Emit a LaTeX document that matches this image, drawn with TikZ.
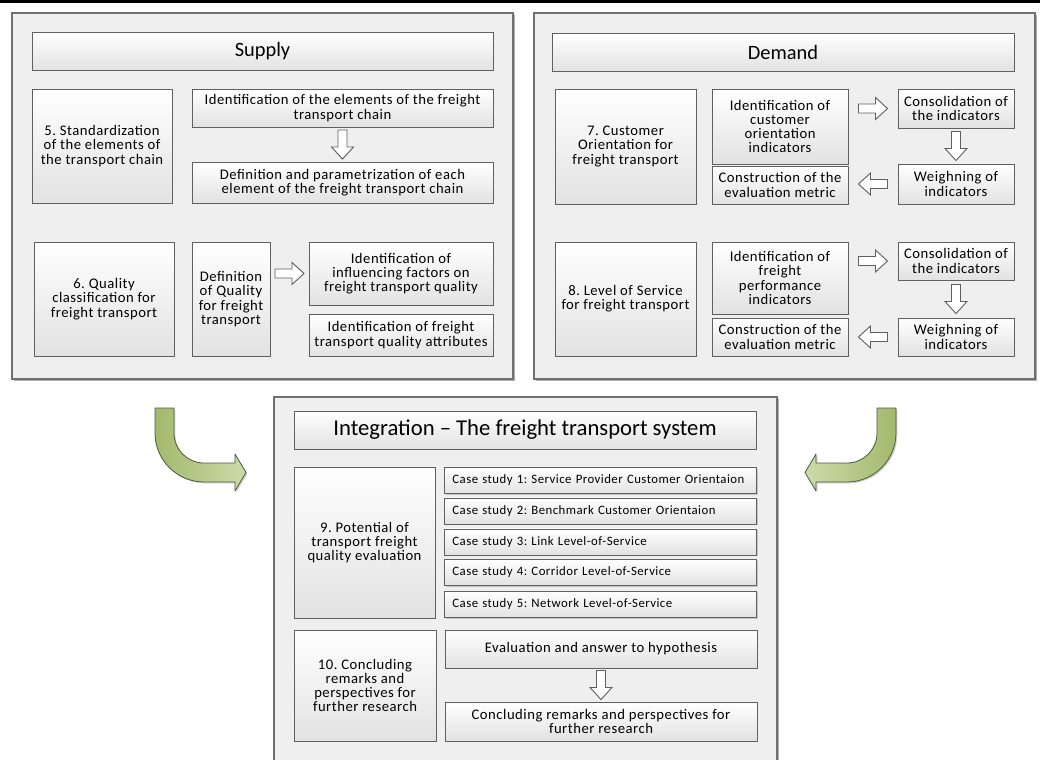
\documentclass[tikz,border=0pt]{standalone}
\usepackage{fontspec}
\setmainfont{Carlito}
\newfontfamily\bodyfont[LetterSpace=3.5]{Carlito}
\usetikzlibrary{shadows,calc}

\definecolor{panelfill}{HTML}{EFEFEF}
\definecolor{panelline}{HTML}{707070}
\definecolor{boxline}{HTML}{606060}
\definecolor{boxbottom}{HTML}{E2E2E2}
\definecolor{olivedark}{HTML}{A2B96C}
\definecolor{olivelight}{HTML}{CCDBAA}
\definecolor{arrowline}{HTML}{505A3A}

\tikzset{
  % a rectangle given by its left, top, right and bottom edges (in px)
  area/.style n args={4}{minimum width={(#3-#1)*0.75pt}, minimum height={(#4-#2)*0.75pt},
    at={({(#1+#3)/2},{(#2+#4)/2})}},
  panel/.style={draw=panelline, line width=0.8pt, fill=panelfill, inner sep=0pt,
    drop shadow={shadow xshift=1.2pt, shadow yshift=-1.2pt, opacity=0.45, fill=black!70}},
  box/.style={draw=boxline, line width=0.7pt, top color=white, bottom color=boxbottom,
    inner sep=0pt, align=center, font=\bodyfont\fontsize{11}{10.7}\selectfont,
    drop shadow={shadow xshift=0.8pt, shadow yshift=-0.8pt, opacity=0.3, fill=black!60}},
  headbox/.style={box, font=\fontsize{15.3}{18}\selectfont},
  casebox/.style={box, anchor=north west, align=left, inner xsep=6pt, inner ysep=0pt,
    text width=222pt, minimum height=19.5pt, font=\bodyfont\fontsize{9.6}{11}\selectfont},
  blockarrow/.style={draw=boxline, line width=0.7pt, fill=white, line join=miter},
  hollowarr/.pic={
    \draw[blockarrow] (-14.5,-4.5) -- (2.5,-4.5) -- (2.5,-11) -- (14.5,0)
      -- (2.5,11) -- (2.5,4.5) -- (-14.5,4.5) -- cycle;
  },
  bentarrow/.style={draw=arrowline, line width=0.6pt, line join=round,
    drop shadow={shadow xshift=1pt, shadow yshift=-1pt, opacity=0.3, fill=black!60}},
}

\begin{document}
\frenchspacing
\begin{tikzpicture}[x=0.75pt, y=-0.75pt]
\useasboundingbox (0,0) rectangle (1040,760);
\fill[white] (0,0) rectangle (1040,760);
\clip (0,0) rectangle (1040,760);

% rule along the top edge
\fill[black] (0,0) rectangle (1040,2.7);

% ---------------- Supply ----------------
\node[panel, area={12}{13}{513}{379}] (supply) {};
\node[headbox, area={32}{32}{493}{70}] (supplyhead) {Supply};
\node[box, area={32}{89}{172}{203}] (s5) {5. Standardization\\of the elements of\\the transport chain};
\node[box, area={192}{89}{493}{127}] (s5a) {Identification of the elements of the freight\\transport chain};
\node[box, area={192}{162}{493}{203}] (s5b) {Definition and parametrization of each\\element of the freight transport chain};
\node[box, area={34}{242}{174}{356}] (s6) {6. Quality\\classification for\\freight transport};
\node[box, area={192}{242}{270}{356}] (s6a) {Definition\\of Quality\\for freight\\transport};
\node[box, area={309}{242}{493}{305}] (s6b) {Identification of\\influencing factors on\\freight transport quality};
\node[box, area={309}{314}{493}{356}] (s6c) {Identification of freight\\transport quality attributes};

\path ($(s5a.south)!0.5!(s5b.north)$) pic[rotate=-90] {hollowarr};
\path ($(s6a.east |- s6b.west)!0.5!(s6b.west)$) pic {hollowarr};

% ---------------- Demand ----------------
\node[panel, area={534}{13}{1035}{379}] (demand) {};
\node[headbox, area={552}{33}{1014}{71}] (demandhead) {Demand};
\node[box, area={555}{89}{696}{204}] (d7) {7. Customer\\Orientation for\\freight transport};
\node[box, area={712}{89}{848}{164}] (d7a) {Identification of\\customer\\orientation\\indicators};
\node[box, area={898}{89}{1014}{128}] (d7b) {Consolidation of\\the indicators};
\node[box, area={898}{164}{1014}{204}] (d7c) {Weighning of\\indicators};
\node[box, area={712}{166}{848}{204}] (d7d) {Construction of the\\evaluation metric};
\node[box, area={555}{242}{696}{356}] (d8) {8. Level of Service\\for freight transport};
\node[box, area={712}{242}{848}{314}] (d8a) {Identification of\\freight\\performance\\indicators};
\node[box, area={898}{242}{1014}{280}] (d8b) {Consolidation of\\the indicators};
\node[box, area={898}{318}{1014}{356}] (d8c) {Weighning of\\indicators};
\node[box, area={712}{318}{848}{356}] (d8d) {Construction of the\\evaluation metric};

\path ($(d7a.east |- d7b.west)!0.5!(d7b.west)$) pic {hollowarr};
\path ($(d7b.south)!0.5!(d7c.north)$) pic[rotate=-90] {hollowarr};
\path ($(d7d.east |- d7c.west)!0.5!(d7c.west)$) pic[rotate=180] {hollowarr};
\path ($(d8a.east |- d8b.west)!0.5!(d8b.west)$) pic {hollowarr};
\path ($(d8b.south)!0.5!(d8c.north)$) pic[rotate=-90] {hollowarr};
\path ($(d8d.east |- d8c.west)!0.5!(d8c.west)$) pic[rotate=180] {hollowarr};

% ---------------- Integration ----------------
\node[panel, area={274}{397}{777}{775}] (integ) {};
\node[headbox, area={294}{411}{756}{449}, font=\fontsize{17}{19}\selectfont] (integhead) {Integration -- The freight transport system};
\node[box, area={294}{467}{435}{618}] (i9) {9. Potential of\\transport freight\\quality evaluation};
\node[casebox] (c1) at (444,467) {Case study 1: Service Provider Customer Orientaion};
\node[casebox] (c2) at (444,497.5) {Case study 2: Benchmark Customer Orientaion};
\node[casebox] (c3) at (444,528.5) {Case study 3: Link Level-of-Service};
\node[casebox] (c4) at (444,559) {Case study 4: Corridor Level-of-Service};
\node[casebox] (c5) at (444,591) {Case study 5: Network Level-of-Service};
\node[box, area={294}{630}{436}{741}] (i10) {10. Concluding\\remarks and\\perspectives for\\further research};
\node[box, area={445}{630}{757}{668}] (i10a) {Evaluation and answer to hypothesis};
\node[box, area={445}{702}{757}{741}] (i10b) {Concluding remarks and perspectives for\\further research};
\path ($(i10a.south)!0.5!(i10b.north)$) pic[rotate=-90] {hollowarr};

% ---------------- bent arrows into the integration panel ----------------
\draw[bentarrow, left color=olivedark, right color=olivelight]
  (155,408) -- (174,408) -- (174,433) arc[start angle=180, end angle=90, radius=30]
  -- (235,463) -- (235,454) -- (246,472.5) -- (235,491) -- (235,482) -- (204,482)
  arc[start angle=90, end angle=180, radius=49] -- cycle;
\draw[bentarrow, left color=olivelight, right color=olivedark]
  (896,408) -- (877,408) -- (877,433) arc[start angle=0, end angle=90, radius=30]
  -- (816,463) -- (816,454) -- (805,472.5) -- (816,491) -- (816,482) -- (847,482)
  arc[start angle=90, end angle=0, radius=49] -- cycle;
\end{tikzpicture}
\end{document}
